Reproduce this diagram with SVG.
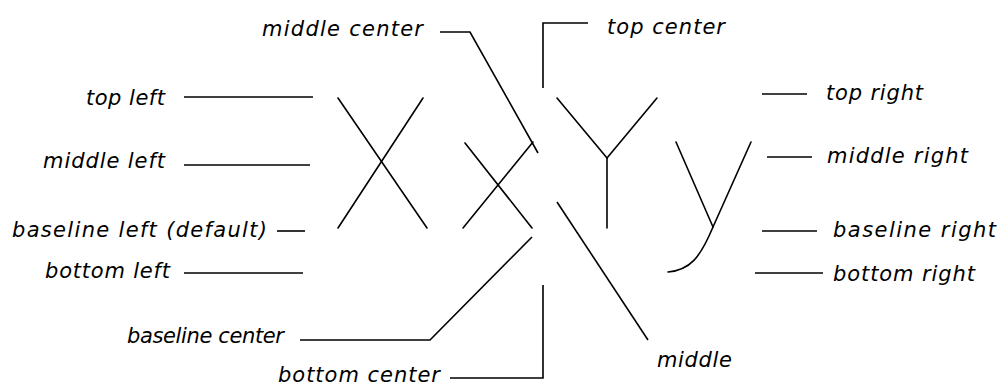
<svg xmlns="http://www.w3.org/2000/svg" width="1001" height="388" viewBox="0 0 1001 388">
<style>
.lbl{font-family:"DejaVu Sans","Liberation Sans",sans-serif;font-style:italic;font-size:21px;fill:#000}
.ln{stroke:#000;stroke-width:1.6;fill:none}
.gl{stroke:#000;stroke-width:1.6;fill:none;stroke-linecap:round}
</style>
<rect width="1001" height="388" fill="#fff"/>
<g id="glyphs">
<line class="gl" x1="338" y1="98" x2="427" y2="228"/>
<line class="gl" x1="423" y1="98" x2="338" y2="228"/>
<line class="gl" x1="465" y1="143" x2="532" y2="228"/>
<line class="gl" x1="533" y1="142" x2="463" y2="228"/>
<line class="gl" x1="557" y1="98" x2="607" y2="158"/>
<line class="gl" x1="657" y1="98" x2="607" y2="158"/>
<line class="gl" x1="607" y1="158" x2="607" y2="228"/>
<line class="gl" x1="676" y1="142" x2="713" y2="227"/>
<path class="gl" d="M751,142 L713,227 C700,258 690,270 668,272"/>
</g>
<g id="connectors">
<polyline class="ln" points="184,97 313,97"/>
<polyline class="ln" points="184,165 310,165"/>
<polyline class="ln" points="277,231 305,231"/>
<polyline class="ln" points="184,273 303,273"/>
<polyline class="ln" points="440,32 470,32 538,153"/>
<polyline class="ln" points="588,23 543,23 543,88"/>
<polyline class="ln" points="762,94 807,94"/>
<polyline class="ln" points="767,157 812,157"/>
<polyline class="ln" points="762,231 817,231"/>
<polyline class="ln" points="755,273 823,273"/>
<polyline class="ln" points="300,340 430,340 532,237"/>
<polyline class="ln" points="450,378 543,378 543,285"/>
<polyline class="ln" points="557,202 648,340"/>
</g>
<g id="middle-center"><text class="lbl" x="262" y="36" textLength="161" lengthAdjust="spacing">middle center</text></g>
<g id="top-center"><text class="lbl" x="607" y="34" textLength="118" lengthAdjust="spacing">top center</text></g>
<g id="top-left"><text class="lbl" x="86" y="105" textLength="79" lengthAdjust="spacing">top left</text></g>
<g id="middle-left"><text class="lbl" x="43" y="168" textLength="122" lengthAdjust="spacing">middle left</text></g>
<g id="baseline-left"><text class="lbl" x="12" y="237" textLength="255" lengthAdjust="spacing">baseline left (default)</text></g>
<g id="bottom-left"><text class="lbl" x="45" y="278" textLength="125" lengthAdjust="spacing">bottom left</text></g>
<g id="baseline-center"><text class="lbl" x="127" y="343" textLength="157" lengthAdjust="spacing">baseline center</text></g>
<g id="bottom-center"><text class="lbl" x="278" y="382" textLength="162" lengthAdjust="spacing">bottom center</text></g>
<g id="middle"><text class="lbl" x="657" y="367" textLength="75" lengthAdjust="spacing">middle</text></g>
<g id="top-right"><text class="lbl" x="826" y="100" textLength="97" lengthAdjust="spacing">top right</text></g>
<g id="middle-right"><text class="lbl" x="827" y="163" textLength="141" lengthAdjust="spacing">middle right</text></g>
<g id="baseline-right"><text class="lbl" x="833" y="237" textLength="163" lengthAdjust="spacing">baseline right</text></g>
<g id="bottom-right"><text class="lbl" x="833" y="281" textLength="142" lengthAdjust="spacing">bottom right</text></g>
</svg>
